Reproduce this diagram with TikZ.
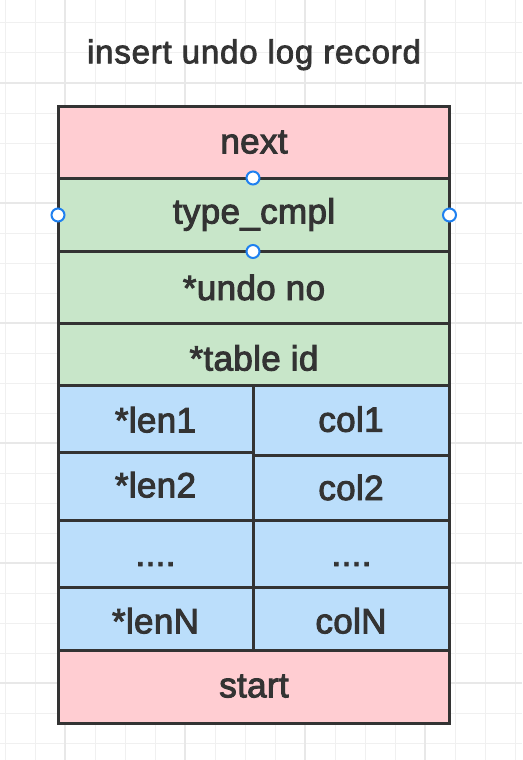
\documentclass[tikz,border=0pt]{standalone}
\usepackage{fontspec}
\setmainfont{Liberation Sans}
\newfontfamily\cellfont[FakeBold=2.8,LetterSpace=1]{Liberation Sans}
\newfontfamily\titlefont[FakeBold=2.5,LetterSpace=2.5]{Liberation Sans}
\definecolor{pinkc}{HTML}{FFCDD2}
\definecolor{greenc}{HTML}{C8E6C9}
\definecolor{bluec}{HTML}{BBDEFB}
\definecolor{bordc}{HTML}{333333}
\definecolor{textc}{HTML}{333333}
\definecolor{handc}{HTML}{1E80F0}
\definecolor{gridthin}{HTML}{F0F0F0}
\definecolor{gridbold}{HTML}{E8E8E8}
\begin{document}
\begin{tikzpicture}[x=1pt,y=-1pt,
  cell/.style={draw=bordc, line width=3pt, inner sep=0pt, outer sep=0pt, anchor=center},
  txt/.style={anchor=base, inner sep=0pt, text=textc, font=\cellfont\fontsize{35}{42}\selectfont},
  ttl/.style={anchor=base, inner sep=0pt, text=textc, font=\titlefont\fontsize{33}{40}\selectfont},
  handle/.style={circle, draw=handc, fill=white, line width=2pt, minimum size=13pt, inner sep=0pt},
  gthin/.style={draw=gridthin, line width=1pt},
  gbold/.style={draw=gridbold, line width=2pt}]
\useasboundingbox (0,0) rectangle (522,760);
\fill[white] (0,0) rectangle (522,760);
% grid
\foreach \x in {5,35,...,515} \draw[gthin] (\x,0) -- (\x,760);
\foreach \y in {23,53,...,743} \draw[gthin] (0,\y) -- (522,\y);
\foreach \x in {65,185,305,425} \draw[gbold] (\x,0) -- (\x,760);
\foreach \y in {83,203,323,443,563,683} \draw[gbold] (0,\y) -- (522,\y);
% title
\node[ttl] (title) at (254,63.3) {insert undo log record};
% full-width cells
\node[cell, fill=pinkc,  minimum width=391.5pt, minimum height=72pt]   (c-next)  at (253.75,142) {};
\node[cell, fill=greenc, minimum width=391.5pt, minimum height=73.5pt] (c-type)  at (253.75,214.75) {};
\node[cell, fill=greenc, minimum width=391.5pt, minimum height=72pt]   (c-undo)  at (253.75,287.5) {};
\node[cell, fill=greenc, minimum width=391.5pt, minimum height=62pt]   (c-table) at (253.75,354.5) {};
% left column
\node[cell, fill=bluec, minimum width=195pt, minimum height=66.5pt] (c-len1) at (155.5,418.75) {};
\node[cell, fill=bluec, minimum width=195pt, minimum height=68.5pt] (c-len2) at (155.5,486.25) {};
\node[cell, fill=bluec, minimum width=195pt, minimum height=67pt]   (c-ldot) at (155.5,554) {};
\node[cell, fill=bluec, minimum width=195pt, minimum height=62.5pt] (c-lenN) at (155.5,618.75) {};
% right column
\node[cell, fill=bluec, minimum width=196.5pt, minimum height=69.5pt] (c-col1) at (351.25,420.25) {};
\node[cell, fill=bluec, minimum width=196.5pt, minimum height=65.5pt] (c-col2) at (351.25,487.75) {};
\node[cell, fill=bluec, minimum width=196.5pt, minimum height=67pt]   (c-rdot) at (351.25,554) {};
\node[cell, fill=bluec, minimum width=196.5pt, minimum height=62.5pt] (c-colN) at (351.25,618.75) {};
% bottom
\node[cell, fill=pinkc, minimum width=391.5pt, minimum height=73.5pt] (c-start) at (253.75,686.75) {};
% texts
\node[txt] (t-next)  at (254,153.3) {next};
\node[txt] (t-type)  at (254,223.5) {type\_cmpl};
\node[txt] (t-undo)  at (254,300) {*undo no};
\node[txt] (t-table) at (254,370.5) {*table id};
\node[txt] (t-len1)  at (155.5,432.3) {*len1};
\node[txt] (t-len2)  at (155.5,497.3) {*len2};
\node[txt] (t-ldot)  at (155.5,566) {....};
\node[txt] (t-lenN)  at (155.5,633.3) {*lenN};
\node[txt] (t-col1)  at (351,431.7) {col1};
\node[txt] (t-col2)  at (351,500) {col2};
\node[txt] (t-rdot)  at (351.5,566) {....};
\node[txt] (t-colN)  at (351,633.3) {colN};
\node[txt] (t-start) at (254,697.3) {start};
% selection handles
\node[handle] (h-top)   at (253,178) {};
\node[handle] (h-left)  at (58,215) {};
\node[handle] (h-right) at (449.5,215) {};
\node[handle] (h-bot)   at (253,251.5) {};
\end{tikzpicture}
\end{document}
